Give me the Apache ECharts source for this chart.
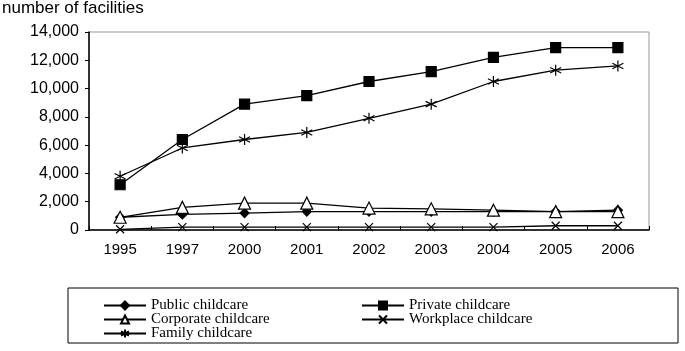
<!DOCTYPE html>
<html>
<head>
<meta charset="utf-8">
<script src="https://cdn.jsdelivr.net/npm/echarts@6/dist/echarts.min.js"></script>
<style>
  html, body { margin: 0; padding: 0; background: #fff; }
  #chart { width: 685px; height: 351px; }
</style>
</head>
<body>
<div id="chart"></div>
<script>
// 年份
var years = ["1995", "1997", "2000", "2001", "2002", "2003", "2004", "2005", "2006"];
// 各类托育机构数量
var publicCare = [900, 1100, 1200, 1300, 1300, 1300, 1300, 1300, 1400];
var privateCare = [3200, 6400, 8900, 9500, 10500, 11200, 12200, 12900, 12900];
var corporateCare = [900, 1600, 1900, 1900, 1550, 1500, 1400, 1300, 1300];
var workplaceCare = [50, 200, 200, 200, 200, 200, 200, 300, 300];
var familyCare = [3800, 5800, 6400, 6900, 7900, 8900, 10500, 11300, 11600];

var chart = echarts.init(document.getElementById("chart"));

var crossPath = "path://M0,0L10,10M10,0L0,10";
var starPath = "path://M5,0L5,10M0,2.5L10,7.5M10,2.5L0,7.5";

function lineSeries(name, data, symbol, size, fill) {
  return {
    name: name,
    type: "line",
    data: data,
    symbol: symbol,
    symbolSize: size,
    showSymbol: true,
    animation: false,
    lineStyle: { color: "#000", width: 1.3 },
    itemStyle: { color: fill, borderColor: "#000", borderWidth: 1.2 },
  };
}

// 图例：每项单独定位，排成两列
function legendItem(name, left, top) {
  return {
    data: [name],
    left: left,
    top: top,
    itemWidth: 42,
    itemHeight: 10,
    textStyle: { fontFamily: "Liberation Serif", fontSize: 15, color: "#000" },
  };
}

chart.setOption({
  grid: { left: 89, right: 36, top: 32, bottom: 121, show: true, borderColor: "#999", borderWidth: 1 },
  graphic: [
    {
      type: "text",
      left: 2,
      top: 0,
      style: { text: "number of facilities", font: "17px 'Liberation Sans'", fill: "#000" },
    },
    {
      type: "rect",
      shape: { x: 68, y: 288, width: 610, height: 55 },
      style: { fill: "none", stroke: "#000", lineWidth: 1 },
    },
  ],
  legend: [
    legendItem("Public childcare", 98, 293),
    legendItem("Corporate childcare", 98, 307),
    legendItem("Family childcare", 98, 321),
    legendItem("Private childcare", 356, 293),
    legendItem("Workplace childcare", 356, 307),
  ],
  xAxis: {
    type: "category",
    data: years,
    boundaryGap: true,
    axisLine: { lineStyle: { color: "#000", width: 1.5 } },
    axisTick: { show: true, inside: true, length: 4, lineStyle: { color: "#000" } },
    axisLabel: { color: "#000", fontFamily: "Liberation Sans", fontSize: 15, margin: 12 },
  },
  yAxis: {
    type: "value",
    min: 0,
    max: 14000,
    interval: 2000,
    splitLine: { show: false },
    axisLine: { show: true, lineStyle: { color: "#000", width: 1.5 } },
    axisTick: { show: true, length: 4, lineStyle: { color: "#000" } },
    axisLabel: {
      color: "#000",
      fontFamily: "Liberation Sans",
      fontSize: 16,
      margin: 10,
      formatter: function (v) { return v.toLocaleString("en-US"); },
    },
  },
  series: [
    lineSeries("Public childcare", publicCare, "diamond", 9, "#000"),
    lineSeries("Private childcare", privateCare, "rect", 10, "#000"),
    lineSeries("Corporate childcare", corporateCare, "triangle", 12, "#fff"),
    lineSeries("Workplace childcare", workplaceCare, crossPath, 8, "none"),
    lineSeries("Family childcare", familyCare, starPath, 11, "none"),
  ],
});
</script>
</body>
</html>
